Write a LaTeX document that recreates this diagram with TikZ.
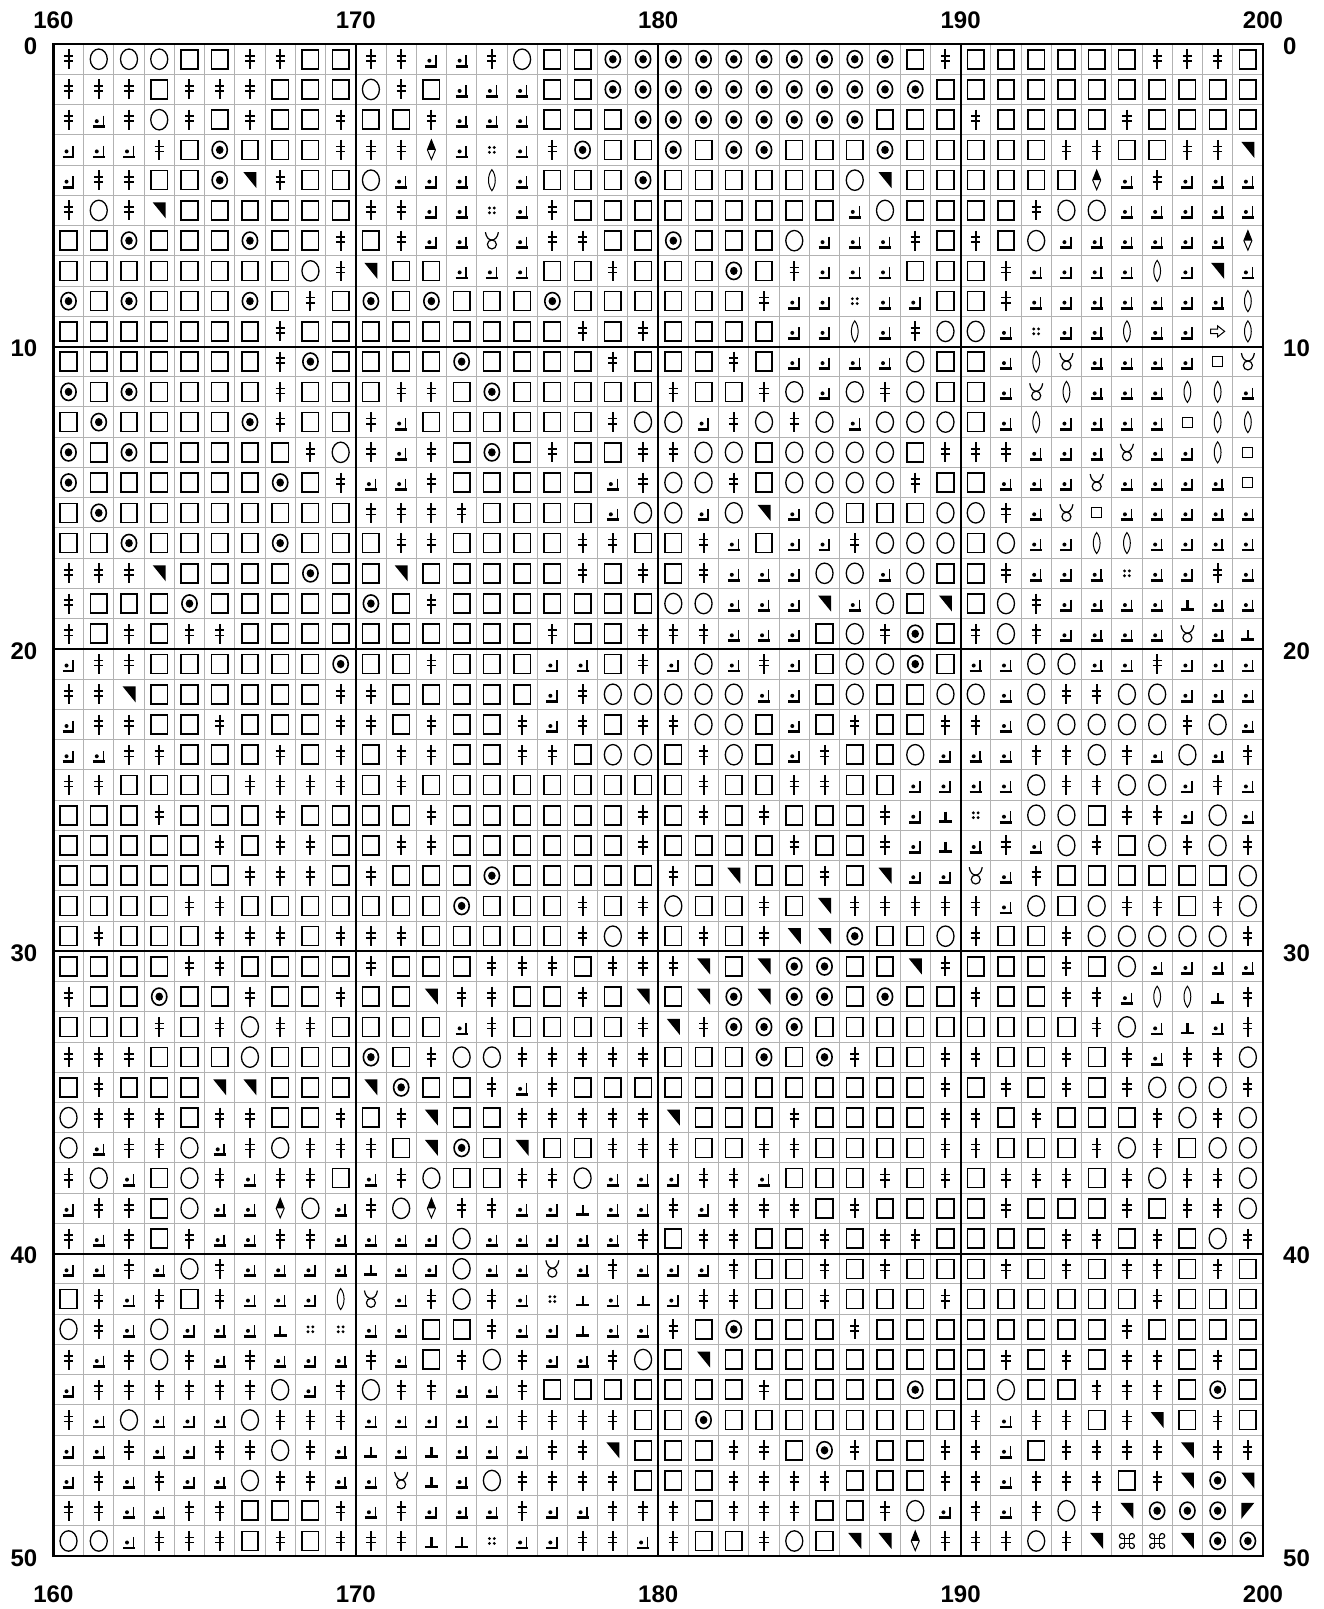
\documentclass[tikz,border=0pt]{standalone}
\usepackage{fontspec}
\setmainfont{Liberation Sans}
\newcount\colc
\def\gx{53.4}
\def\gy{44.1}
\def\gc{30.24}
\def\drawrow#1#2{\colc=0 \def\currow{#1}\rowloop#2\relax}
\def\rowloop#1{\ifx#1\relax\let\next\relax\else\def\next{\putsym{#1}\advance\colc by 1\relax\rowloop}\fi\next}
\def\putsym#1{\edef\tmpc{\the\colc}\pic at ({\gx+\gc*(\tmpc+0.5)},{\gy+\gc*(\currow+0.5)}) {sym#1};}
\tikzset{
 gridthin/.style={line width=1pt,draw=black!30},
 gridthick/.style={line width=2pt,draw=black},
 lab/.style={font=\fontsize{24}{28}\selectfont\bfseries,inner sep=0pt},
 symd/.pic={\draw[line width=2pt] (0,-10)--(0,10); \draw[line width=1.7pt] (-4.6,-3.5)--(4.6,-3.5) (-4.6,1.6)--(4.6,1.6);},
 symo/.pic={\draw[line width=1.3pt] (0,0) ellipse[x radius=8.5,y radius=10.2];},
 symx/.pic={\draw[line width=1.6pt] (0,0) ellipse[x radius=7.6,y radius=8.6]; \fill (0,0) ellipse[x radius=3.8,y radius=4.1];},
 syms/.pic={\draw[line width=1.6pt] (-8.25,-9.5) rectangle (8.25,9.5);},
 symj/.pic={\fill (-2,1.5) circle[radius=2]; \draw[line width=1.5pt] (4.5,-4)--(4.5,8); \draw[line width=2.8pt] (-6,7)--(5.9,7);},
 symt/.pic={\fill (-6.5,-8)--(6.5,-8)--(6.5,8)--cycle;},
 symT/.pic={\fill (-6.5,-8)--(6.5,-8)--(-6.5,8)--cycle;},
 symv/.pic={\fill (0,-10)--(-4,0)--(4,0)--cycle; \draw[line width=1pt] (0,-10)--(-4,0)--(0,9.5)--(4,0)--cycle;},
 symq/.pic={\fill (-2.4,-2.4) circle[radius=1.6] (2.4,-2.4) circle[radius=1.6] (-2.4,2.4) circle[radius=1.6] (2.4,2.4) circle[radius=1.6];},
 syme/.pic={\draw[line width=1pt] (0,-10.5) .. controls (-4.5,-5) and (-4.5,5) .. (0,10.5) .. controls (4.5,5) and (4.5,-5) .. (0,-10.5) -- cycle;},
 symu/.pic={\draw[line width=1.2pt] (0,3.8) circle[radius=4.5]; \draw[line width=1.2pt] (-6.5,-8.5) .. controls (-5,2) and (5,2) .. (6.5,-8.5);},
 symp/.pic={\draw[line width=2.2pt] (0,-3.5)--(0,6); \draw[line width=2.8pt] (-6.5,6)--(6.5,6);},
 syma/.pic={\draw[line width=1pt] (-7,-2.2)--(0,-2.2)--(0,-5.5)--(7,0)--(0,5.5)--(0,2.2)--(-7,2.2)--cycle;},
 symm/.pic={\draw[line width=1.2pt] (-5,-5) rectangle (5,5);},
 symc/.pic={\draw[line width=1.2pt] (-2.5,-5)--(-2.5,5) (2.5,-5)--(2.5,5) (-5,-2.5)--(5,-2.5) (-5,2.5)--(5,2.5);
   \draw[line width=1.2pt] (-2.5,-5) arc[start angle=0,end angle=-270,radius=2.5];
   \draw[line width=1.2pt] (5,-2.5) arc[start angle=90,end angle=-180,radius=2.5];
   \draw[line width=1.2pt] (2.5,5) arc[start angle=180,end angle=-90,radius=2.5];
   \draw[line width=1.2pt] (-5,2.5) arc[start angle=-90,end angle=-360,radius=2.5];}
}
\begin{document}
\begin{tikzpicture}[x=1pt,y=-1pt]
\useasboundingbox (0,0) rectangle (1324,1609);
\fill[white] (0,0) rectangle (1324,1609);
% thin grid
\foreach \i in {0,...,40} \draw[gridthin] ({\gx+\gc*\i},\gy) -- ({\gx+\gc*\i},{\gy+\gc*50});
\foreach \i in {0,...,50} \draw[gridthin] (\gx,{\gy+\gc*\i}) -- ({\gx+\gc*40},{\gy+\gc*\i});
% thick grid
\foreach \i in {10,20,30} \draw[gridthick] ({\gx+\gc*\i},\gy) -- ({\gx+\gc*\i},{\gy+\gc*50});
\foreach \i in {10,20,30,40} \draw[gridthick] (\gx,{\gy+\gc*\i}) -- ({\gx+\gc*40},{\gy+\gc*\i});
\draw[line width=2.5pt] (\gx,\gy) rectangle ({\gx+\gc*40},{\gy+\gc*50});
% labels
\foreach \n [count=\k from 0] in {160,170,180,190,200} {
  \node[lab] (t\n) at ({\gx+302.4*\k},20.5) {\n};
  \node[lab] (b\n) at ({\gx+302.4*\k},1594) {\n};
}
\foreach \n [count=\k from 0] in {0,10,20,30,40,50} {
  \node[lab,anchor=east] (l\n) at (37.5,{\gy+302.4*\k+2}) {\n};
  \node[lab,anchor=west] (r\n) at (1283,{\gy+302.4*\k+2}) {\n};
}
% symbols
\drawrow{0}{dooossddssddjjdossxxxxxxxxxxsdssssssddds}
\drawrow{1}{dddsdddsssodsjjjssxxxxxxxxxxxsssssssssss}
\drawrow{2}{djdodsdssdssdjjjsssxxxxxxxxsssdssssdssss}
\drawrow{3}{jjjdsxsssdddvjqjdxssxsxxsssxsssssddssddt}
\drawrow{4}{jddssxtdssojjjejsssxssssssotssssssvjdjjj}
\drawrow{5}{dodtssssssddjjqjdsssssssssjossssdoojjjjj}
\drawrow{6}{ssxsssxssdsdjjujddssxsssojjjdsdsojjjjjjv}
\drawrow{7}{ssssssssodtssjjjssdsssxsdjjjsssdjjjjejtj}
\drawrow{8}{xsxsssxsdsxsxsssxssssssdjjqjjssdjjjjjjje}
\drawrow{9}{sssssssdsssssssssdsdssssjjejdoojqjjejjae}
\drawrow{10}{sssssssdxssssxssssdsssdsjjjjossjeujjjjmu}
\drawrow{11}{xsxssssdsssddsxsssssdssdojodossjuejjjeej}
\drawrow{12}{sxssssxdssdjssssssdoojdodojooosjejjjjmee}
\drawrow{13}{xsxsssssdodjdsxsdssddoosoooosdddjjjujjem}
\drawrow{14}{xssssssxsdjjdsssssjdoodsoooodssjjjujjjjm}
\drawrow{15}{sxssssssssddddssssjoojotjosssoodjumjjjjj}
\drawrow{16}{ssxssssxsssddssssddssdjsjjdooosojjeejjjj}
\drawrow{17}{dddtssssxsstsssssdsdsdjjjoojossdjjjqjjdj}
\drawrow{18}{dsssxsssssxsdsssssssoojjjtjostsodjjjjpjj}
\drawrow{19}{dsdsddssssssssssdssdddjjjsodxsdodjjjjujp}
\drawrow{20}{jddssssssxssdsssjjsdjojdjsooxsjjoojjdjjj}
\drawrow{21}{ddtssssssddsssssjdooooojjsossoojoddoojjj}
\drawrow{22}{jddssdsssddsdssdjdsddoosjsdssddjooooodoj}
\drawrow{23}{jjddsssdsdsddssddsoosdosjdssojjjddodjojd}
\drawrow{24}{ddssssddddsdsssssssssdssddssjjjjoddoojdj}
\drawrow{25}{sssdsssdssssdssssssdsdsdsssdjpqjoosddjoj}
\drawrow{26}{sssssdsddssddssssssdssssdssdjpjdjodsodod}
\drawrow{27}{ssssssdddsdsssxsssssdstssdstjjujdsssssso}
\drawrow{28}{ssssddsssssssxsssdsdossdstdddddjosoddsdo}
\drawrow{29}{sdsssdddsdddsssssdodsdsdttxssodssdoooood}
\drawrow{30}{ssssddssssdsssdddsdddtstxxsstdsssdsojjjj}
\drawrow{31}{dssxssdssdsstddssdststxtxxsxssdssddjeepd}
\drawrow{32}{sssdsdoddssssjdssssdtdxxxsssssssssdojpjd}
\drawrow{33}{dddsssosssxsdoodddddsssxsxdssddssdsdjddo}
\drawrow{34}{sdsssttssstxssdjdssssssssssssdsdsdsdoood}
\drawrow{35}{odddsddssdsdtssdddddtsssdssssddsdsssdodo}
\drawrow{36}{ojddojdodddstxstssdddssddssssddsssdodsoo}
\drawrow{37}{dojsodjddsjdossddojjjddjsssdsdsdddsdoddo}
\drawrow{38}{jddsojjvojdovddjjpjjdjdddsdssssdsssdsddo}
\drawrow{39}{djdsdjjddjjjjojjjjjdsddssdsddssssddsdsod}
\drawrow{40}{jjdjodjjjjpjjojjujdjjjdssdsdsssdsdsddsds}
\drawrow{41}{sdjdsdjjjeujdodjqpjpjddssdsssdssssssdsss}
\drawrow{42}{odjojjjpqqjjssdjjpjjdsxsssdssssssssdssss}
\drawrow{43}{djdodjdjjjdjsdodjjdostsssssssssdsdsddsds}
\drawrow{44}{jddddddojdoddjjdsssssssdssssxssossdddsxs}
\drawrow{45}{djojjjodddjjjjjddddssxssssssssdjddsdtsds}
\drawrow{46}{jjdjjddodjpjpjjjddtsssddsxdssddjsddddtdd}
\drawrow{47}{jdjdjjoddjjupjoddddsssddddsssddjdddsdtxt}
\drawrow{48}{ddjjddsssdjdjjjdjjdddsdddssdojdjdodtxxxT}
\drawrow{49}{oojdddsdsdddppqjjddjdssdosttvdddodtcctxx}
\end{tikzpicture}
\end{document}
